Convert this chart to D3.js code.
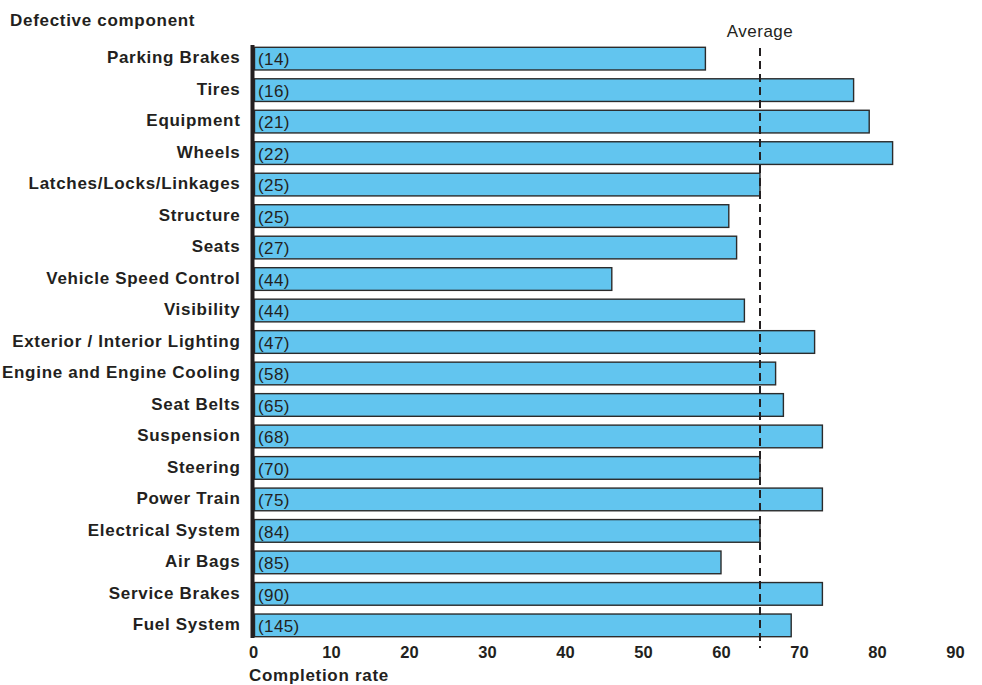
<!DOCTYPE html>
<html><head><meta charset="utf-8">
<script src="https://cdn.jsdelivr.net/npm/d3@7/dist/d3.min.js"></script>
<style>body{margin:0;background:#fff}svg{display:block}text{font-family:"Liberation Sans",Arial,Helvetica,sans-serif;fill:#231f20}</style>
</head><body><svg id="c" width="982" height="685"></svg>
<script>
const categories = ["Parking Brakes","Tires","Equipment","Wheels","Latches/Locks/Linkages","Structure","Seats","Vehicle Speed Control","Visibility","Exterior / Interior Lighting","Engine and Engine Cooling","Seat Belts","Suspension","Steering","Power Train","Electrical System","Air Bags","Service Brakes","Fuel System"];
const counts = [14,16,21,22,25,25,27,44,44,47,58,65,68,70,75,84,85,90,145];
const rates = [58,77,79,82,65,61,62,46,63,72,67,68,73,65,73,65,60,73,69];
const average = 65;
const xTicks = [0,10,20,30,40,50,60,70,80,90];

const svg = d3.select("#c");
const x = d3.scaleLinear().domain([0,90]).range([253,955]);
const y = d3.scaleBand().domain(categories).range([47.3,636.7]).paddingInner(0.28).paddingOuter(0);
const FS = 17, LS = "0.7px";

// bars
svg.append("g").selectAll("rect").data(categories).join("rect")
  .attr("x", x(0)+1.5).attr("y", d=>y(d))
  .attr("width", (d,i)=>x(rates[i])-x(0)-1.5).attr("height", y.bandwidth())
  .attr("fill","#62c5ef").attr("stroke","#2b2b2b").attr("stroke-width",1.4);

// count labels
svg.append("g").selectAll("text").data(categories).join("text")
  .attr("x", x(0)+5).attr("y", d=>y(d)+y.bandwidth()/2+0.5).attr("dy","0.36em")
  .attr("font-size",FS).style("letter-spacing","0.4px").text((d,i)=>"("+counts[i]+")");

// category labels
svg.append("g").selectAll("text").data(categories).join("text")
  .attr("x", 240.5).attr("y", d=>y(d)+y.bandwidth()/2-1.5).attr("dy","0.36em")
  .attr("text-anchor","end").attr("font-size",FS).attr("font-weight","bold").style("letter-spacing",LS).text(d=>d);

// axis line
svg.append("line").attr("x1",x(0)-0.5).attr("x2",x(0)-0.5).attr("y1",45).attr("y2",638)
  .attr("stroke","#231f20").attr("stroke-width",4);

// x axis
const ax = svg.append("g").attr("transform","translate(0,646)")
  .call(d3.axisBottom(x).tickValues(xTicks).tickSize(0).tickPadding(0));
ax.select(".domain").remove();
ax.selectAll("text").attr("font-size",16.5).attr("font-weight","bold").attr("fill","#231f20")
  .style("font-family",'"Liberation Sans",Arial,sans-serif').attr("dy","0.71em");

// average
svg.append("line").attr("x1",x(average)).attr("x2",x(average)).attr("y1",48).attr("y2",648)
  .attr("stroke","#231f20").attr("stroke-width",2).attr("stroke-dasharray","8,5");
svg.append("text").attr("x",x(average)).attr("y",31).attr("dy","0.36em").attr("text-anchor","middle")
  .attr("font-size",FS).style("letter-spacing","0.5px").text("Average");

// titles
svg.append("text").attr("x",10).attr("y",20).attr("dy","0.36em").attr("font-size",FS).attr("font-weight","bold").style("letter-spacing",LS).text("Defective component");
svg.append("text").attr("x",249).attr("y",675).attr("dy","0.36em").attr("font-size",FS).attr("font-weight","bold").style("letter-spacing",LS).text("Completion rate");
</script></body></html>
